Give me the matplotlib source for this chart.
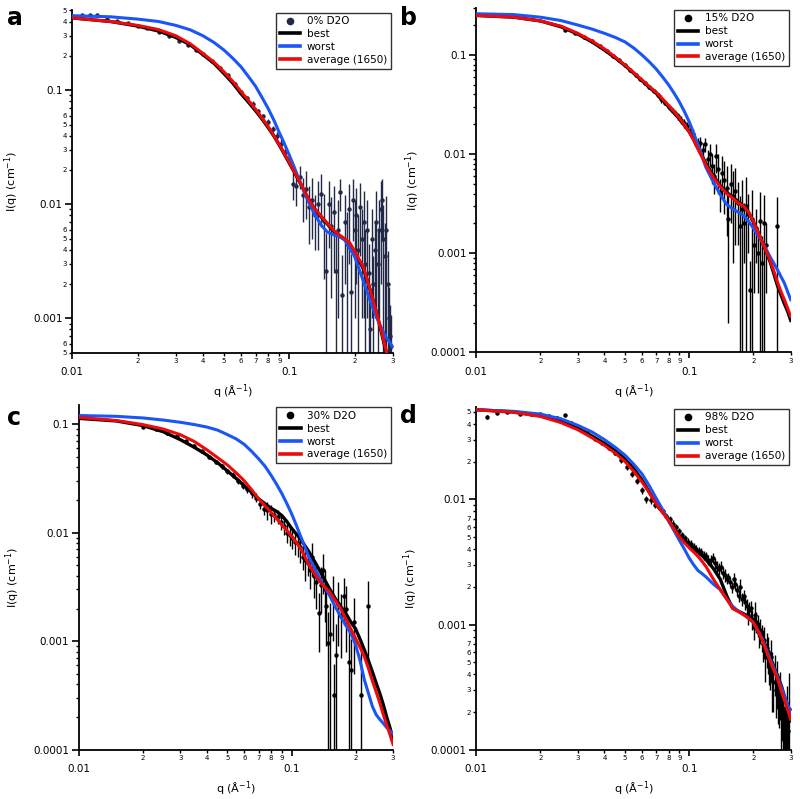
import numpy as np
import matplotlib.pyplot as plt
from matplotlib.lines import Line2D
from matplotlib.ticker import FixedLocator, FuncFormatter, LogLocator

plt.rcParams['font.family'] = ['DejaVu Sans']

# model curves (best / worst / average of 1650), common q grid
q_model = [0.01, 0.015, 0.02, 0.025, 0.03, 0.035, 0.04, 0.045, 0.05, 0.055, 0.06,
           0.065, 0.07, 0.075, 0.08, 0.085, 0.09, 0.095, 0.1, 0.105, 0.11, 0.115,
           0.12, 0.13, 0.14, 0.15, 0.16, 0.17, 0.18, 0.19, 0.2, 0.21, 0.22, 0.23,
           0.24, 0.25, 0.26, 0.27, 0.28, 0.29, 0.3]

a_best = [0.43, 0.40, 0.365, 0.33, 0.29, 0.25, 0.205, 0.172, 0.14, 0.115, 0.093,
          0.078, 0.066, 0.0557, 0.047, 0.0396, 0.033, 0.0275, 0.023, 0.0195, 0.0165, 0.0141,
          0.012, 0.0093, 0.0078, 0.0067, 0.0058, 0.0053, 0.0049, 0.0045, 0.0038, 0.0032, 0.0027, 0.0021,
          0.0016, 0.0012, 0.0009, 0.00067, 0.0005, 0.00039, 0.0003]
a_worst = [0.45, 0.44, 0.42, 0.40, 0.37, 0.338, 0.30, 0.262, 0.225, 0.19, 0.160,
           0.131, 0.108, 0.086, 0.069, 0.0545, 0.0425, 0.034, 0.027, 0.0216, 0.0172, 0.014,
           0.0115, 0.0084, 0.0066, 0.0057, 0.0054, 0.0052, 0.0049, 0.0041, 0.0035, 0.0027, 0.0021, 0.00165,
           0.0013, 0.00108, 0.0009, 0.00078, 0.00068, 0.00062, 0.00056]
a_avg = [0.43, 0.40, 0.37, 0.34, 0.30, 0.255, 0.21, 0.176, 0.145, 0.119, 0.097,
         0.081, 0.068, 0.057, 0.048, 0.040, 0.0334, 0.0279, 0.0233, 0.0197, 0.0167, 0.0142,
         0.0121, 0.0093, 0.0079, 0.0068, 0.0059, 0.0054, 0.0050, 0.0046, 0.0039, 0.0033, 0.0028, 0.0021,
         0.0016, 0.00121, 0.00092, 0.00069, 0.00052, 0.0004, 0.0003]

b_best = [0.25, 0.24, 0.22, 0.192, 0.162, 0.135, 0.112, 0.093, 0.078, 0.065, 0.055,
          0.047, 0.041, 0.035, 0.030, 0.026, 0.0225, 0.0195, 0.0168, 0.014, 0.0115, 0.0096,
          0.0080, 0.0060, 0.0048, 0.0041, 0.0037, 0.0033, 0.0030, 0.0026, 0.0021, 0.00166, 0.0013, 0.00104,
          0.00082, 0.00062, 0.00047, 0.00038, 0.00031, 0.00026, 0.00021]
b_worst = [0.26, 0.255, 0.24, 0.222, 0.20, 0.182, 0.165, 0.15, 0.135, 0.117, 0.100,
           0.085, 0.072, 0.060, 0.050, 0.041, 0.0335, 0.0268, 0.0212, 0.0163, 0.0124, 0.0095,
           0.0073, 0.0052, 0.0039, 0.0031, 0.0028, 0.0026, 0.0024, 0.0021, 0.0018, 0.00152, 0.0013, 0.0011,
           0.00092, 0.00079, 0.00068, 0.00058, 0.0005, 0.00041, 0.00034]
b_avg = [0.25, 0.24, 0.22, 0.195, 0.165, 0.138, 0.115, 0.095, 0.079, 0.066, 0.056,
         0.048, 0.042, 0.036, 0.031, 0.0267, 0.023, 0.0197, 0.0168, 0.0138, 0.0112, 0.0093,
         0.0077, 0.0058, 0.0047, 0.0040, 0.0036, 0.0032, 0.0030, 0.0026, 0.0021, 0.00166, 0.0013, 0.00105,
         0.00085, 0.00066, 0.00051, 0.00041, 0.00034, 0.00028, 0.00023]

c_best = [0.113, 0.107, 0.097, 0.085, 0.072, 0.061, 0.052, 0.044, 0.037, 0.0315, 0.027,
          0.0235, 0.0205, 0.0185, 0.0168, 0.0157, 0.0144, 0.0127, 0.0110, 0.0098, 0.0088, 0.0077,
          0.0068, 0.0052, 0.0040, 0.0031, 0.0025, 0.0021, 0.0018, 0.0015, 0.0013, 0.00104, 0.00083, 0.00066,
          0.00052, 0.00041, 0.00033, 0.00026, 0.0002, 0.00016, 0.000125]
c_worst = [0.12, 0.118, 0.114, 0.109, 0.104, 0.099, 0.094, 0.088, 0.080, 0.073, 0.065,
           0.056, 0.048, 0.041, 0.034, 0.028, 0.023, 0.0186, 0.015, 0.0119, 0.0094, 0.0076,
           0.0061, 0.0045, 0.0034, 0.0027, 0.0021, 0.0017, 0.0014, 0.00118, 0.00093, 0.00066, 0.00044, 0.00033,
           0.00025, 0.00021, 0.00019, 0.000175, 0.00016, 0.00015, 0.00014]
c_avg = [0.115, 0.108, 0.099, 0.09, 0.08, 0.069, 0.058, 0.049, 0.042, 0.0355, 0.030,
         0.0248, 0.0205, 0.0177, 0.0155, 0.0135, 0.0118, 0.0105, 0.0093, 0.0082, 0.0072, 0.0061,
         0.0052, 0.0040, 0.0033, 0.0029, 0.0024, 0.0020, 0.0016, 0.0013, 0.00106, 0.00088, 0.00072, 0.00056,
         0.00043, 0.00034, 0.00027, 0.00021, 0.00017, 0.000138, 0.000112]

d_best = [0.052, 0.050, 0.0465, 0.042, 0.037, 0.032, 0.028, 0.0245, 0.021, 0.0175, 0.0143,
          0.0114, 0.0092, 0.0079, 0.0069, 0.0059, 0.0051, 0.0047, 0.0044, 0.0041, 0.0038, 0.00355,
          0.0033, 0.0028, 0.0023, 0.0017, 0.00135, 0.00128, 0.00122, 0.00116, 0.00106, 0.00093, 0.0008, 0.00066,
          0.00055, 0.00046, 0.00039, 0.00033, 0.00027, 0.00021, 0.00017]
d_worst = [0.052, 0.0505, 0.048, 0.044, 0.039, 0.0345, 0.030, 0.026, 0.0225, 0.019, 0.016,
           0.0128, 0.0102, 0.0083, 0.0067, 0.0056, 0.0047, 0.0040, 0.0034, 0.003, 0.0027, 0.00255,
           0.0024, 0.0021, 0.0019, 0.0016, 0.0014, 0.00128, 0.0012, 0.00112, 0.00104, 0.0009, 0.00078, 0.00064,
           0.00053, 0.00045, 0.00038, 0.00032, 0.00027, 0.00023, 0.0002]
d_avg = [0.052, 0.0495, 0.046, 0.041, 0.036, 0.031, 0.027, 0.0234, 0.020, 0.0167, 0.0138,
         0.0113, 0.0092, 0.0079, 0.0068, 0.0058, 0.0050, 0.0045, 0.0041, 0.0038, 0.0035, 0.0032,
         0.0029, 0.0023, 0.0019, 0.0016, 0.00135, 0.00127, 0.0012, 0.00113, 0.00104, 0.0009, 0.00076, 0.00062,
         0.00051, 0.00043, 0.00037, 0.0003, 0.00025, 0.00021, 0.000175]

# measured data (q, I, error)
a_q = [0.0111, 0.0121, 0.0130, 0.0145, 0.016, 0.018, 0.020, 0.022, 0.025, 0.028, 0.031,
       0.034, 0.037, 0.040, 0.044, 0.048, 0.052, 0.056, 0.060, 0.064, 0.068, 0.072, 0.076,
       0.080, 0.084, 0.088, 0.092, 0.096, 0.100,
       0.104, 0.108, 0.112, 0.116, 0.120, 0.124, 0.128, 0.132, 0.136, 0.140, 0.144, 0.148,
       0.152, 0.156, 0.160, 0.164, 0.168, 0.172, 0.176, 0.180, 0.184, 0.188, 0.192, 0.196,
       0.200, 0.204, 0.208, 0.212, 0.216, 0.220, 0.224, 0.228, 0.232, 0.236, 0.240, 0.244,
       0.248, 0.252, 0.256, 0.260, 0.264, 0.268, 0.272, 0.276, 0.280, 0.284, 0.288, 0.292, 0.296]
a_I = [0.455, 0.456, 0.452, 0.420, 0.405, 0.385, 0.365, 0.350, 0.325, 0.300, 0.272,
       0.250, 0.226, 0.206, 0.180, 0.156, 0.135, 0.114, 0.096, 0.085, 0.075, 0.066, 0.059,
       0.053, 0.046, 0.040, 0.034, 0.029, 0.025,
       0.0150, 0.0146, 0.0175, 0.0120, 0.0135, 0.0095, 0.0110, 0.0080, 0.0100, 0.0123, 0.0072, 0.0026,
       0.0101, 0.0065, 0.0085, 0.0026, 0.0060, 0.0128, 0.0016, 0.0070, 0.0045, 0.0090, 0.0017, 0.0108,
       0.0060, 0.0080, 0.0040, 0.0095, 0.0050, 0.0070, 0.0030, 0.0060, 0.0025, 0.0008, 0.0050, 0.0020,
       0.0040, 0.0070, 0.0030, 0.0060, 0.0090, 0.0108, 0.0050, 0.0035, 0.0060, 0.0020, 0.0010, 0.0007, 0.00057]
a_err = [0.012, 0.012, 0.012, 0.008, 0.008, 0.008, 0.007, 0.007, 0.006, 0.006, 0.006,
         0.005, 0.005, 0.005, 0.004, 0.004, 0.004, 0.004, 0.004, 0.004, 0.006, 0.003, 0.003,
         0.003, 0.003, 0.003, 0.003, 0.003, 0.003,
         0.004, 0.005, 0.004, 0.005, 0.006, 0.005, 0.006, 0.004, 0.006, 0.006, 0.005, 0.003,
         0.006, 0.005, 0.006, 0.003, 0.005, 0.004, 0.002, 0.005, 0.004, 0.006, 0.002, 0.006,
         0.005, 0.006, 0.004, 0.006, 0.004, 0.006, 0.003, 0.005, 0.002, 0.0008, 0.004, 0.0015,
         0.003, 0.006, 0.0028, 0.005, 0.007, 0.006, 0.0048, 0.0033, 0.0058, 0.0019, 0.0009, 0.0006, 0.0005]

b_q = [0.026, 0.029, 0.032, 0.035, 0.038, 0.041, 0.044, 0.047, 0.050, 0.053, 0.056, 0.059,
       0.062, 0.065, 0.068, 0.071, 0.074, 0.077, 0.080, 0.083, 0.086, 0.089, 0.092, 0.095,
       0.098, 0.101, 0.104, 0.107,
       0.110, 0.113, 0.116, 0.119, 0.122, 0.125, 0.128, 0.131, 0.134, 0.137, 0.140, 0.143,
       0.146, 0.150, 0.153, 0.157, 0.161, 0.165, 0.169, 0.173, 0.177, 0.181, 0.185, 0.189,
       0.193, 0.197, 0.201, 0.205, 0.210, 0.215, 0.220, 0.225, 0.230, 0.260]
b_I = [0.178, 0.166, 0.150, 0.138, 0.124, 0.110, 0.098, 0.088, 0.079, 0.070, 0.063, 0.057,
       0.052, 0.047, 0.043, 0.039, 0.036, 0.033, 0.030, 0.028, 0.026, 0.024, 0.022, 0.0205,
       0.019, 0.0175, 0.0160, 0.0135,
       0.0130, 0.0128, 0.0110, 0.0125, 0.0090, 0.0100, 0.0075, 0.0060, 0.0095, 0.0070, 0.0041, 0.0065,
       0.0055, 0.0045, 0.0022, 0.0050, 0.0038, 0.0042, 0.0032, 0.0019, 0.0028, 0.0020, 0.0030, 0.0025,
       0.00043, 0.0022, 0.0012, 0.0018, 0.0010, 0.0021, 0.0008, 0.0020, 0.0012, 0.0019]
b_err = [0.004, 0.004, 0.004, 0.003, 0.003, 0.003, 0.003, 0.003, 0.002, 0.002, 0.002, 0.002,
         0.002, 0.002, 0.002, 0.002, 0.003, 0.002, 0.002, 0.002, 0.002, 0.002, 0.002, 0.002,
         0.002, 0.002, 0.002, 0.0015,
         0.0015, 0.002, 0.002, 0.002, 0.002, 0.0025, 0.0025, 0.002, 0.003, 0.003, 0.0015, 0.003,
         0.003, 0.003, 0.002, 0.003, 0.003, 0.003, 0.002, 0.0019, 0.0027, 0.0012, 0.0029, 0.0015,
         0.0004, 0.0021, 0.0008, 0.0010, 0.0006, 0.002, 0.0007, 0.0019, 0.0008, 0.0018]

c_q = [0.020, 0.023, 0.026, 0.029, 0.032, 0.035, 0.038, 0.041, 0.044, 0.047, 0.050, 0.053,
       0.056, 0.059, 0.062, 0.065, 0.068, 0.071, 0.074, 0.077, 0.080, 0.083, 0.086, 0.089,
       0.092, 0.095, 0.098, 0.101, 0.104, 0.107, 0.110, 0.113, 0.116,
       0.119, 0.122, 0.125, 0.128, 0.131, 0.134, 0.137, 0.140, 0.143, 0.146, 0.149, 0.152,
       0.156, 0.159, 0.162, 0.166, 0.171, 0.176, 0.181, 0.187, 0.190, 0.196, 0.211, 0.229]
c_I = [0.095, 0.090, 0.083, 0.077, 0.070, 0.063, 0.056, 0.050, 0.045, 0.041, 0.037, 0.034,
       0.030, 0.027, 0.025, 0.023, 0.021, 0.0185, 0.0165, 0.0160, 0.0150, 0.0145, 0.0140, 0.0125,
       0.0115, 0.0100, 0.0095, 0.0090, 0.0082, 0.0080, 0.0073, 0.0060, 0.0056,
       0.0052, 0.0045, 0.0060, 0.0040, 0.0035, 0.0018, 0.0033, 0.0045, 0.0030, 0.0021, 0.00096, 0.00117,
       0.0025, 0.00032, 0.00074, 0.0022, 0.0017, 0.0026, 0.0020, 0.00064, 0.00054, 0.0015, 0.00032, 0.0021]
c_err = [0.002, 0.002, 0.002, 0.002, 0.002, 0.002, 0.002, 0.002, 0.002, 0.002, 0.002, 0.002,
         0.002, 0.002, 0.002, 0.002, 0.002, 0.002, 0.002, 0.003, 0.003, 0.002, 0.002, 0.002,
         0.002, 0.002, 0.002, 0.002, 0.002, 0.002, 0.002, 0.0015, 0.002,
         0.0012, 0.0015, 0.002, 0.0015, 0.0015, 0.001, 0.0015, 0.0018, 0.0015, 0.0012, 0.0009, 0.0011,
         0.0015, 0.0003, 0.0007, 0.0013, 0.001, 0.0012, 0.0012, 0.0006, 0.0005, 0.001, 0.0007, 0.0015]

d_q = [0.0112, 0.0125, 0.0140, 0.0160, 0.0180, 0.0200, 0.0220, 0.0240, 0.0260, 0.0280,
       0.0300, 0.0330, 0.0360, 0.0390, 0.0420, 0.0450, 0.0480, 0.0510, 0.0540, 0.0570,
       0.0600, 0.0630, 0.0660, 0.0690, 0.0720, 0.0750, 0.0780, 0.0810, 0.0840, 0.0870,
       0.0900, 0.0930, 0.0960, 0.0990, 0.1020, 0.1050, 0.1080, 0.1110, 0.1140, 0.1170,
       0.1200, 0.1230, 0.1260, 0.1290, 0.1320, 0.1350, 0.1380, 0.1410, 0.1440, 0.1470,
       0.1500, 0.1530, 0.1560, 0.1590, 0.1620, 0.1650, 0.1680, 0.1710, 0.1740, 0.1770,
       0.1800, 0.1830, 0.1860, 0.1890, 0.1920, 0.1950, 0.1980, 0.2010, 0.2040, 0.2070,
       0.2100, 0.2130, 0.2160, 0.2190, 0.2220, 0.2250, 0.2280, 0.2310, 0.2340, 0.2370,
       0.2400, 0.2430, 0.2460, 0.2490, 0.2520, 0.2550, 0.2580, 0.2610, 0.2640, 0.2670,
       0.2700, 0.2730, 0.2760, 0.2790, 0.2820, 0.2850, 0.2880, 0.2910, 0.2950]
d_I = [0.0455, 0.0490, 0.0495, 0.0480, 0.0485, 0.0478, 0.0460, 0.0450, 0.0468, 0.0405,
       0.0370, 0.0340, 0.0305, 0.0280, 0.0258, 0.0235, 0.0205, 0.0180, 0.0160, 0.0140,
       0.0118, 0.0100, 0.0098, 0.0090, 0.0087, 0.0080, 0.0074, 0.0070, 0.0064, 0.0060,
       0.0056, 0.0052, 0.0049, 0.0046, 0.0044, 0.0042, 0.0040, 0.0039, 0.0038, 0.0036,
       0.0035, 0.0033, 0.0033, 0.0034, 0.0031, 0.0029, 0.0028, 0.0029, 0.0026, 0.0025,
       0.0023, 0.0024, 0.0022, 0.0020, 0.0023, 0.0021, 0.0019, 0.0017, 0.0020, 0.0016,
       0.0017, 0.0015, 0.0014, 0.0012, 0.0013, 0.00135, 0.0011, 0.00095, 0.0012, 0.00105,
       0.0010, 0.00085, 0.0009, 0.0008, 0.0007, 0.00075, 0.00055, 0.00065, 0.0006, 0.00048,
       0.00045, 0.00055, 0.0004, 0.00035, 0.00042, 0.0003, 0.00036, 0.00028, 0.00025, 0.0003,
       0.00018, 0.00022, 0.00015, 0.00012, 0.00016, 0.00011, 0.0002, 0.00014, 0.00021]
d_err = [0.0015, 0.0005, 0.0005, 0.0005, 0.0008, 0.0008, 0.0008, 0.001, 0.0015, 0.0008,
         0.0008, 0.0008, 0.0008, 0.0008, 0.0008, 0.0008, 0.0008, 0.0008, 0.0008, 0.0008,
         0.0008, 0.0007, 0.0006, 0.0005, 0.0005, 0.0004, 0.0004, 0.0004, 0.0004, 0.0003,
         0.0003, 0.0003, 0.0003, 0.0003, 0.0003, 0.0003, 0.0003, 0.0003, 0.0003, 0.0003,
         0.0003, 0.0003, 0.0003, 0.0003, 0.0003, 0.0003, 0.0003, 0.0003, 0.0003, 0.0003,
         0.0002, 0.0002, 0.0002, 0.0002, 0.0003, 0.0002, 0.0002, 0.0002, 0.0003, 0.0002,
         0.0002, 0.0002, 0.0002, 0.0002, 0.0002, 0.0002, 0.0002, 0.0002, 0.0003, 0.0002,
         0.0002, 0.0002, 0.0002, 0.0002, 0.0002, 0.0002, 0.0002, 0.0002, 0.0002, 0.00015,
         0.00015, 0.0002, 0.0002, 0.00015, 0.00015, 0.00012, 0.00015, 0.00012, 0.0001, 0.00012,
         0.00012, 0.0001, 0.0001, 0.0001, 0.0001, 0.0001, 0.00012, 0.0001, 0.0002]

legend_names = ['0% D2O', '15% D2O', '30% D2O', '98% D2O']
panel_letters = ['a', 'b', 'c', 'd']

BLUE = '#1a55f5'
RED = '#ee0a0a'
NAVY = '#222a48'


def digit_formatter(labelled):
    def fmt(v, pos):
        if v <= 0:
            return ''
        e = np.floor(np.log10(v) + 1e-9)
        d = int(round(v / 10 ** e))
        return str(d) if d in labelled else ''
    return FuncFormatter(fmt)


def draw_panel(ax, q, I, err, best, worst, avg, ylim, ydigits, name, dcolor):
    q = np.array(q)
    I = np.array(I)
    err = np.array(err)
    lower = np.minimum(err, I * 0.999)
    ax.errorbar(q, I, yerr=[lower, err], fmt='o', ms=2.2, color=dcolor,
                ecolor=dcolor, elinewidth=1.0, capsize=0, zorder=2)
    ax.plot(q_model, best, color='black', lw=2.4, zorder=3)
    ax.plot(q_model, worst, color=BLUE, lw=2.2, zorder=4)
    ax.plot(q_model, avg, color=RED, lw=2.2, zorder=5)

    ax.set_xscale('log')
    ax.set_yscale('log')
    ax.set_xlim(0.01, 0.3)
    ax.set_ylim(*ylim)
    for s in ['top', 'right']:
        ax.spines[s].set_visible(False)
    for s in ['left', 'bottom']:
        ax.spines[s].set_linewidth(1.3)

    ax.xaxis.set_major_locator(FixedLocator([0.01, 0.1]))
    ax.xaxis.set_minor_locator(LogLocator(base=10, subs=np.arange(2, 10), numticks=20))
    ax.xaxis.set_major_formatter(FuncFormatter(lambda v, p: f'{v:g}'))
    ax.xaxis.set_minor_formatter(digit_formatter(set(range(2, 10))))
    ax.yaxis.set_major_locator(LogLocator(base=10, numticks=20))
    ax.yaxis.set_minor_locator(LogLocator(base=10, subs=np.arange(2, 10), numticks=20))
    ax.yaxis.set_major_formatter(FuncFormatter(lambda v, p: f'{v:g}'))
    ax.yaxis.set_minor_formatter(digit_formatter(ydigits))

    ax.tick_params(axis='x', which='major', length=4.5, width=1.2, labelsize=7.5, pad=6)
    ax.tick_params(axis='x', which='minor', length=2.3, width=1.0, labelsize=5, pad=1.5)
    ax.tick_params(axis='y', which='major', length=5, width=1.2, labelsize=7.5, pad=2)
    ax.tick_params(axis='y', which='minor', length=2.5, width=1.0, labelsize=5, pad=1.5)

    ax.set_xlabel('q (Å$^{-1}$)', fontsize=8)
    ax.set_ylabel('I(q) (cm$^{-1}$)', fontsize=8)
    ax.xaxis.set_label_coords(0.5, -0.087)

    handles = [Line2D([], [], marker='o', ms=4.5, ls='none', color=dcolor),
               Line2D([], [], color='black', lw=2.6),
               Line2D([], [], color=BLUE, lw=2.6),
               Line2D([], [], color=RED, lw=2.6)]
    leg = ax.legend(handles, [name, 'best', 'worst', 'average (1650)'],
                    loc='upper right', fontsize=7.5, frameon=True, fancybox=False,
                    edgecolor='black', borderpad=0.35, labelspacing=0.28,
                    handlelength=2.0, handletextpad=0.6, borderaxespad=0.2)
    leg.get_frame().set_linewidth(1.0)


fig = plt.figure(figsize=(8.0, 7.99), dpi=100)
ax_a = fig.add_axes([0.0904, 0.5586, 0.4005, 0.4283])
ax_b = fig.add_axes([0.5954, 0.5590, 0.3930, 0.4315])
ax_c = fig.add_axes([0.0984, 0.0617, 0.3929, 0.4314])
ax_d = fig.add_axes([0.5954, 0.0617, 0.3930, 0.4293])

draw_panel(ax_a, a_q, a_I, a_err, a_best, a_worst, a_avg, (5e-4, 0.5),
           {2, 3, 4, 5, 6}, legend_names[0], NAVY)
draw_panel(ax_b, b_q, b_I, b_err, b_best, b_worst, b_avg, (1e-4, 0.3),
           set(), legend_names[1], 'black')
draw_panel(ax_c, c_q, c_I, c_err, c_best, c_worst, c_avg, (1e-4, 0.15),
           set(), legend_names[2], 'black')
draw_panel(ax_d, d_q, d_I, d_err, d_best, d_worst, d_avg, (1e-4, 0.055),
           {2, 3, 4, 5, 6, 7}, legend_names[3], 'black')

ax_a.yaxis.set_label_coords(-0.16, 0.5)
ax_b.yaxis.set_label_coords(-0.173, 0.5)
ax_c.yaxis.set_label_coords(-0.18, 0.5)
ax_d.yaxis.set_label_coords(-0.179, 0.5)

letter_pos = [(7, 25), (400, 25), (7, 425), (400, 423)]
for letter, (px, py) in zip(panel_letters, letter_pos):
    fig.text(px / 800, 1 - py / 799, letter, fontsize=17, fontweight='bold',
             va='baseline', ha='left')

fig.savefig('out.png', dpi=100)
